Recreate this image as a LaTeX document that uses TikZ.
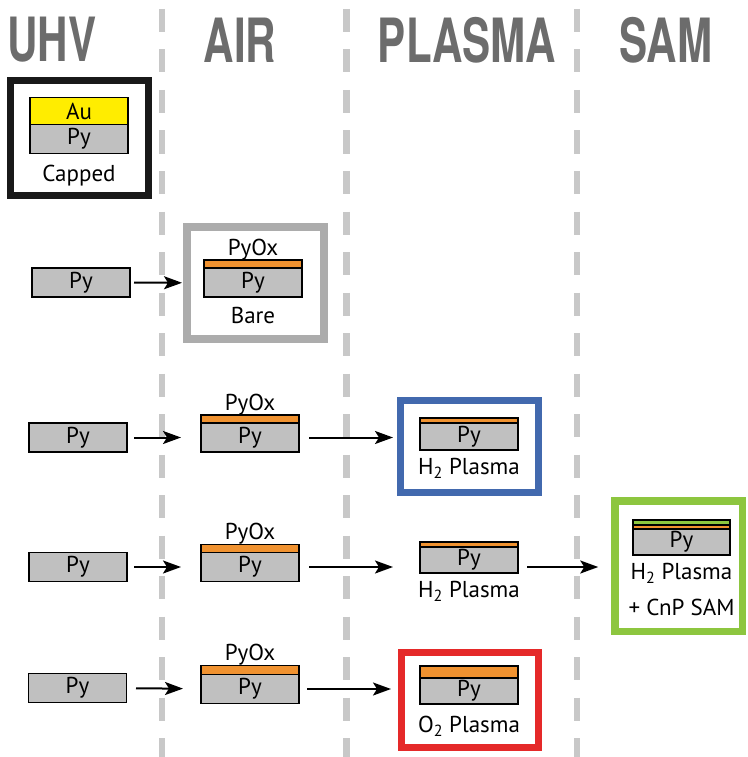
\documentclass[tikz,border=0pt]{standalone}
\usepackage{fontspec}
\setmainfont{PT Sans}
\newfontfamily\headfont{TeX Gyre Heros}
\usetikzlibrary{arrows.meta,positioning}

\definecolor{pyGray}{RGB}{192,192,192}
\definecolor{auYellow}{RGB}{255,237,0}
\definecolor{oxOrange}{RGB}{240,146,48}
\definecolor{samGreen}{RGB}{141,198,63}
\definecolor{headGray}{RGB}{108,108,108}
\definecolor{divGray}{RGB}{200,200,200}
\definecolor{bareGray}{RGB}{172,172,172}
\definecolor{h2Blue}{RGB}{66,105,174}
\definecolor{o2Red}{RGB}{229,41,41}
\newcommand\stackfont{\fontsize{23}{36}\selectfont}

\begin{document}
\begin{tikzpicture}[x=1pt, y=-1pt,
  layer/.style={draw, line width=1.5pt, minimum width=98pt, minimum height=29pt, inner sep=0pt, outer sep=0pt, font=\stackfont},
  py/.style={layer, fill=pyGray},
  au/.style={layer, fill=auYellow, minimum height=27pt},
  oxide/.style={layer, fill=oxOrange, minimum height=8pt},
  boxframe/.style={draw, line width=7pt, inner sep=0pt, outer sep=0pt},
  head/.style={font=\headfont\bfseries\fontsize{61}{61}\selectfont, text=headGray, xscale=0.69, inner sep=0pt},
  txt/.style={font=\stackfont, inner sep=0pt},
  arrow/.style={-{Stealth[length=18pt, width=13pt, inset=4pt]}, line width=2pt},
  divider/.style={draw=divGray, line width=6.5pt, dash pattern=on 23pt off 17.5pt}
]
  \useasboundingbox (0,0) rectangle (747,757);

  % Column dividers
  \draw[divider] (162,9) -- (162,757);
  \draw[divider] (346.5,9) -- (346.5,757);
  \draw[divider] (577,9) -- (577,757);

  % Column headings
  \node[head] (uhv) at (52,40) {UHV};
  \node[head] (air) at (240,40) {AIR};
  \node[head] (plasma) at (467,40) {PLASMA};
  \node[head] (sam) at (666,40) {SAM};

  % Capped sample
  \node[boxframe, draw=black!90, minimum width=138pt, minimum height=115pt] (cappedbox) at (79.5,138) {};
  \node[py] (cappy) at (79,139) {Py};
  \node[au, above=0pt of cappy] (capau) {Au};
  \node[txt, below=11pt of cappy] (cappedlbl) {Capped};

  % Bare sample
  \node[py] (uhvpy2) at (81,282.5) {Py};
  \node[boxframe, draw=bareGray, line width=8pt, minimum width=137pt, minimum height=112pt] (barebox) at (255.5,283) {};
  \node[py] (airpy2) at (253,282.5) {Py};
  \node[oxide, above=0pt of airpy2] (airox2) {};
  \node[txt, above=0pt of airox2] (pyox2) {PyOx};
  \node[txt, below=10pt of airpy2] (barelbl) {Bare};
  \draw[arrow, shorten <=4pt, shorten >=5pt] (uhvpy2) -- (barebox);

  % H2 plasma
  \node[py] (uhvpy3) at (78,437.5) {Py};
  \node[py] (airpy3) at (250,437.5) {Py};
  \node[oxide, above=0pt of airpy3] (airox3) {};
  \node[txt, above=0pt of airox3] (pyox3) {PyOx};
  \node[boxframe, draw=h2Blue, minimum width=138pt, minimum height=92pt] (h2box) at (469.5,446.5) {};
  \node[py, minimum height=27pt] (plpy3) at (469,436.5) {Py};
  \node[oxide, minimum height=5pt, above=0pt of plpy3] (plox3) {};
  \node[txt, below=8pt of plpy3] (h2lbl3) {H\textsubscript{2} Plasma};
  \draw[arrow, shorten <=7pt, shorten >=20pt] (uhvpy3) -- (airpy3);
  \draw[arrow, shorten <=10pt, shorten >=7.5pt] (airpy3.east) -- (airpy3.east -| h2box.west);

  % H2 plasma + SAM
  \node[py] (uhvpy4) at (78,567) {Py};
  \node[py] (airpy4) at (250,567) {Py};
  \node[oxide, above=0pt of airpy4] (airox4) {};
  \node[txt, above=0pt of airox4] (pyox4) {PyOx};
  \node[py, minimum height=26pt] (plpy4) at (469,560) {Py};
  \node[oxide, minimum height=5pt, above=0pt of plpy4] (plox4) {};
  \node[txt, below=8pt of plpy4] (h2lbl4) {H\textsubscript{2} Plasma};
  \node[boxframe, draw=samGreen, line width=7.5pt, minimum width=127.5pt, minimum height=130.5pt] (sambox) at (678.5,566) {};
  \node[py, minimum width=97pt, minimum height=26pt] (sampy) at (681.5,542) {Py};
  \node[oxide, minimum width=97pt, minimum height=4pt, above=0pt of sampy] (samox) {};
  \node[layer, fill=samGreen, minimum width=97pt, minimum height=5pt, above=0pt of samox] (samlayer) {};
  \node[txt, align=center, below=8pt of sampy] (samlbl) {H\textsubscript{2} Plasma\\+ CnP SAM};
  \draw[arrow, shorten <=7pt, shorten >=20pt] (uhvpy4) -- (airpy4);
  \draw[arrow, shorten <=10pt, shorten >=27pt] (airpy4.east) -- (airpy4.east -| plpy4.west);
  \draw[arrow, shorten <=9pt, shorten >=16.5pt] (airpy4.east -| plpy4.east) -- (airpy4.east -| sambox.west);

  % O2 plasma
  \node[py] (uhvpy5) at (77.5,688) {Py};
  \node[py] (airpy5) at (250,689) {Py};
  \node[oxide, minimum height=9pt, above=0pt of airpy5] (airox5) {};
  \node[txt, above=0pt of airox5] (pyox5) {PyOx};
  \node[boxframe, draw=o2Red, minimum width=137pt, minimum height=95pt] (o2box) at (470,700) {};
  \node[py, minimum height=26pt] (plpy5) at (469,691) {Py};
  \node[oxide, minimum height=12pt, above=0pt of plpy5] (plox5) {};
  \node[txt, below=12pt of plpy5] (o2lbl) {O\textsubscript{2} Plasma};
  \draw[arrow, shorten <=9.5pt, shorten >=18pt] (uhvpy5) -- (airpy5);
  \draw[arrow, shorten <=8pt, shorten >=10.5pt] (airpy5.east) -- (airpy5.east -| o2box.west);
\end{tikzpicture}
\end{document}
